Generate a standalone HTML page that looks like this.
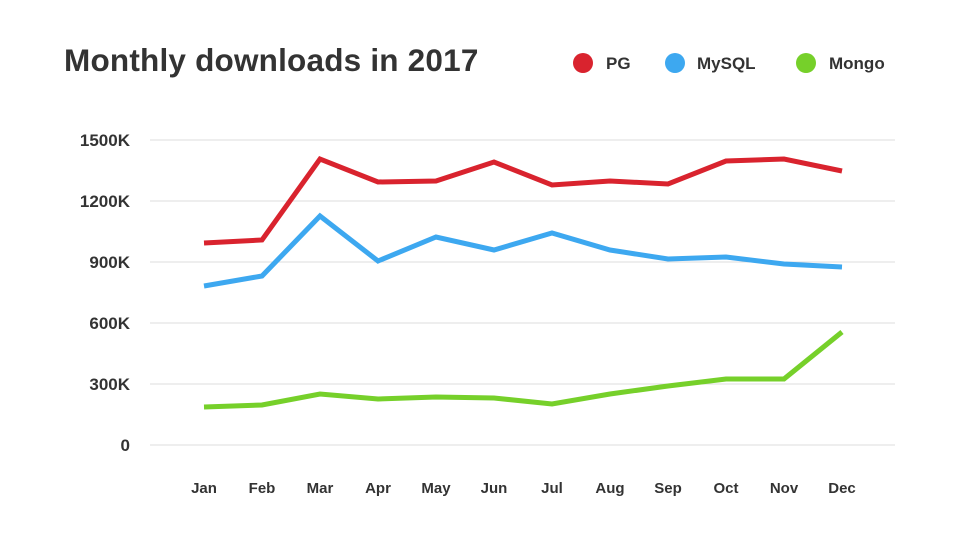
<!DOCTYPE html>
<html><head><meta charset="utf-8"><style>
html,body{margin:0;padding:0;background:#fff;}
body{width:960px;height:540px;overflow:hidden;font-family:"Liberation Sans",sans-serif;}
</style></head><body>
<svg width="960" height="540" xmlns="http://www.w3.org/2000/svg" font-family="Liberation Sans, sans-serif">
<text x="64" y="71" font-size="31.5" font-weight="bold" fill="#333" letter-spacing="0.2">Monthly downloads in 2017</text>
<circle cx="583" cy="63" r="10" fill="#d9232e"/><text x="606" y="69" font-size="17" font-weight="bold" fill="#333">PG</text>
<circle cx="675" cy="63" r="10" fill="#3da8f0"/><text x="697" y="69" font-size="17" font-weight="bold" fill="#333">MySQL</text>
<circle cx="806" cy="63" r="10" fill="#76d02a"/><text x="829" y="69" font-size="17" font-weight="bold" fill="#333">Mongo</text>
<g stroke="#ddd" stroke-width="1">
<line x1="150" y1="140" x2="895" y2="140"/><line x1="150" y1="201" x2="895" y2="201"/>
<line x1="150" y1="262" x2="895" y2="262"/><line x1="150" y1="323" x2="895" y2="323"/>
<line x1="150" y1="384" x2="895" y2="384"/><line x1="150" y1="445" x2="895" y2="445"/>
</g>
<g font-size="17" font-weight="bold" fill="#333" text-anchor="end">
<text x="130" y="146">1500K</text><text x="130" y="207">1200K</text><text x="130" y="268">900K</text>
<text x="130" y="329">600K</text><text x="130" y="390">300K</text><text x="130" y="451">0</text>
</g>
<g font-size="15" font-weight="bold" fill="#333" text-anchor="middle">
<text x="204" y="493">Jan</text><text x="262" y="493">Feb</text><text x="320" y="493">Mar</text><text x="378" y="493">Apr</text>
<text x="436" y="493">May</text><text x="494" y="493">Jun</text><text x="552" y="493">Jul</text><text x="610" y="493">Aug</text>
<text x="668" y="493">Sep</text><text x="726" y="493">Oct</text><text x="784" y="493">Nov</text><text x="842" y="493">Dec</text>
</g>
<g fill="none" stroke-width="5" stroke-linejoin="miter">
<polyline stroke="#d9232e" points="204,243 262,240 320,159 378,182 436,181 494,162 552,185 610,181 668,184 726,161 784,159 842,171"/>
<polyline stroke="#3da8f0" points="204,286 262,276 320,216 378,261 436,237 494,250 552,233 610,250 668,259 726,257 784,264 842,267"/>
<polyline stroke="#76d02a" points="204,407 262,405 320,394 378,399 436,397 494,398 552,404 610,394 668,386 726,379 784,379 842,332"/>
</g>
</svg>
</body></html>
